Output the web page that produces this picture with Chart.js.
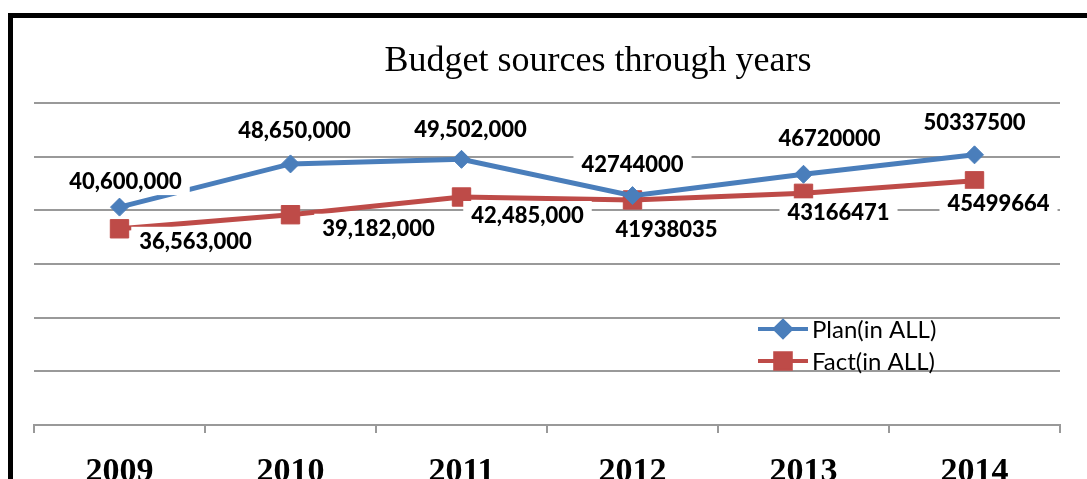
<!DOCTYPE html>
<html>
<head>
<meta charset="utf-8">
<script src="https://cdn.jsdelivr.net/npm/chart.js@4"></script>
<style>
  html, body { margin: 0; padding: 0; background: #fff; overflow: hidden; }
  #wrap { position: relative; width: 1087px; height: 479px; overflow: hidden; }
  #chart { position: absolute; left: 0; top: 0; }
  #frame { position: absolute; left: 8px; top: 13px; width: 2000px; height: 2000px;
           border-top: 5px solid #000; border-left: 5px solid #000; pointer-events: none; }
</style>
</head>
<body>
<div id="wrap">
  <canvas id="chart" width="1087" height="500"></canvas>
  <div id="frame"></div>
</div>
<script>
// chart data
const years = ['2009', '2010', '2011', '2012', '2013', '2014'];
const planValues = [40600000, 48650000, 49502000, 42744000, 46720000, 50337500];
const factValues = [36563000, 39182000, 42485000, 41938035, 43166471, 45499664];
const planLabels = ['40,600,000', '48,650,000', '49,502,000', '42744000', '46720000', '50337500'];
const factLabels = ['36,563,000', '39,182,000', '42,485,000', '41938035', '43166471', '45499664'];
const seriesNames = ['Plan(in ALL)', 'Fact(in ALL)'];
const chartTitle = 'Budget sources through years';

// where each value label sits relative to its point (px)
const planLabelShift = [[6, -26], [4, -34], [9, -30], [0, -32], [26, -36], [0, -33]];
const factLabelShift = [[76, 12], [88, 13], [66, 18], [34, 29], [35, 19], [24, 22]];

const blue = '#4A7EBB';
const red = '#BE4B48';
const gridGray = '#999999';

// value labels with white boxes, drawn over the lines
const valueLabels = {
  id: 'valueLabels',
  afterDatasetsDraw(chart) {
    const ctx = chart.ctx;
    const sets = [[planLabels, planLabelShift], [factLabels, factLabelShift]];
    ctx.save();
    ctx.font = '900 22px Lato';
    ctx.textAlign = 'center';
    ctx.textBaseline = 'middle';
    sets.forEach(([texts, shifts], di) => {
      const meta = chart.getDatasetMeta(di);
      meta.data.forEach((pt, i) => {
        const x = pt.x + shifts[i][0];
        const y = pt.y + shifts[i][1];
        const w = ctx.measureText(texts[i]).width + 16;
        ctx.fillStyle = '#fff';
        ctx.fillRect(x - w / 2, y - 14, w, 28);
        ctx.fillStyle = '#000';
        ctx.fillText(texts[i], x, y + 1);
      });
    });
    ctx.restore();
  }
};

// title and legend placed like the original
const extras = {
  id: 'extras',
  afterDraw(chart) {
    const ctx = chart.ctx;
    ctx.save();
    ctx.fillStyle = '#000';
    ctx.font = '36px "Liberation Serif"';
    ctx.textAlign = 'center';
    ctx.textBaseline = 'alphabetic';
    ctx.fillText(chartTitle, 598, 71);

    const rows = [[blue, 'rectRot', 8, 329], [red, 'rect', 11, 361]];
    ctx.font = '24px Lato';
    ctx.textAlign = 'left';
    ctx.textBaseline = 'middle';
    rows.forEach(([col, style, r, y], i) => {
      ctx.strokeStyle = col;
      ctx.lineWidth = 4;
      ctx.beginPath();
      ctx.moveTo(758, y);
      ctx.lineTo(808, y);
      ctx.stroke();
      ctx.fillStyle = col;
      Chart.helpers.drawPoint(ctx, { pointStyle: style, radius: r, borderWidth: 1 }, 783, y);
      ctx.fill();
      ctx.fillStyle = '#000';
      ctx.fillText(seriesNames[i], 812, y + 1);
    });
    ctx.restore();
  }
};

new Chart(document.getElementById('chart'), {
  type: 'line',
  data: {
    labels: years,
    datasets: [
      {
        label: seriesNames[0],
        data: planValues,
        borderColor: blue,
        backgroundColor: blue,
        borderWidth: 5,
        pointStyle: 'rectRot',
        pointRadius: 9,
        pointBorderWidth: 1,
        tension: 0
      },
      {
        label: seriesNames[1],
        data: factValues,
        borderColor: red,
        backgroundColor: red,
        borderWidth: 5,
        pointStyle: 'rect',
        pointRadius: 13,
        pointBorderWidth: 1,
        tension: 0
      }
    ]
  },
  options: {
    responsive: false,
    animation: false,
    events: [],
    layout: { padding: { left: 34, right: 27, top: 103, bottom: 0 } },
    plugins: {
      legend: { display: false },
      title: { display: false },
      tooltip: { enabled: false }
    },
    scales: {
      x: {
        offset: true,
        afterFit(s) { s.height = 75; },
        grid: {
          offset: true,
          drawOnChartArea: false,
          drawTicks: true,
          tickLength: 8,
          color: gridGray,
          lineWidth: 2
        },
        border: { display: true, color: gridGray, width: 2 },
        ticks: {
          color: '#000',
          padding: 19,
          font: { family: '"Liberation Serif"', size: 34, weight: 'bold' }
        }
      },
      y: {
        min: 0,
        max: 60000000,
        afterFit(s) { s.width = 0; },
        ticks: { display: false, stepSize: 10000000 },
        grid: { color: gridGray, lineWidth: 2, drawTicks: false },
        border: { display: false }
      }
    }
  },
  plugins: [valueLabels, extras]
});
</script>
</body>
</html>
